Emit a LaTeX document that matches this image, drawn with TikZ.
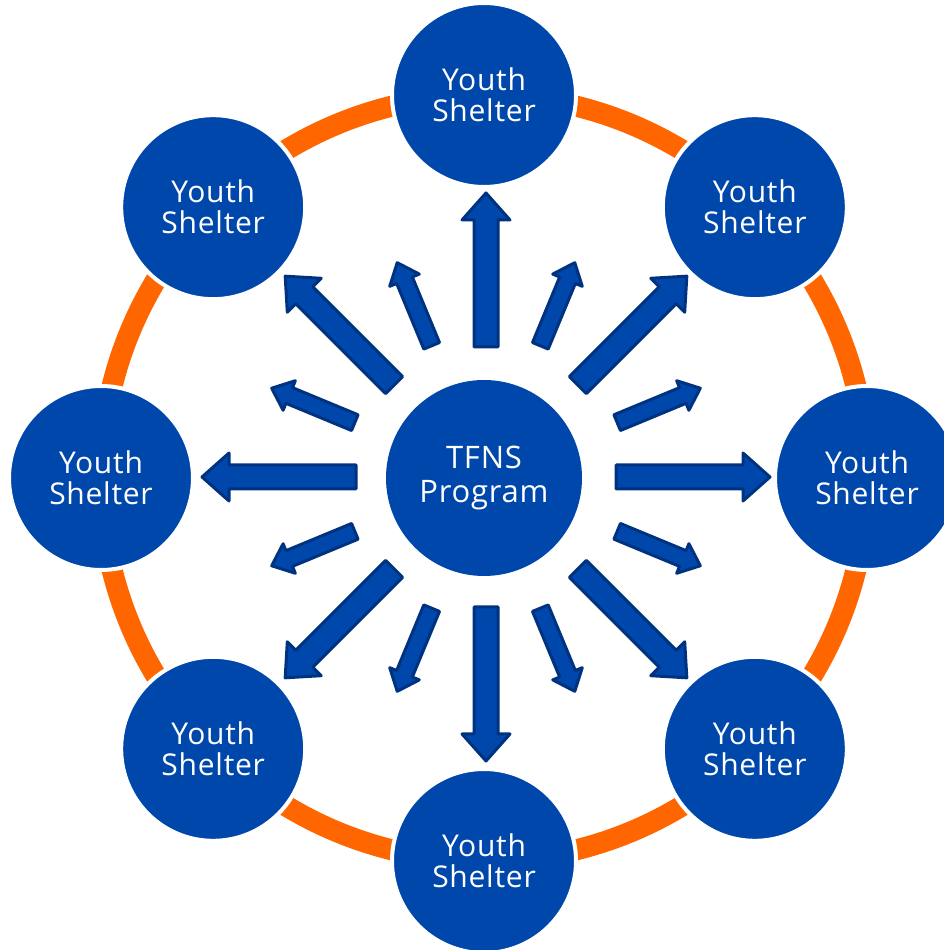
\documentclass[tikz,border=0pt]{standalone}
\usepackage{fontspec}
\setmainfont{Open Sans}[LetterSpace=2.5]
\usetikzlibrary{calc}
\definecolor{cblue}{HTML}{0047AB}
\definecolor{cdark}{HTML}{00337F}
\definecolor{corange}{HTML}{FF6600}
\newcommand\blkarrow[6]{%
  \draw[arrowshape, shift={(486,473)}, rotate=#1]
    (#2,-#4) -- (#3-#6,-#4) -- (#3-#6,-#5) -- (#3,0) -- (#3-#6,#5) -- (#3-#6,#4) -- (#2,#4) -- cycle;}
\begin{document}
\begin{tikzpicture}[x=1pt,y=1pt,
  outer/.style={circle, fill=cblue, draw=white, line width=4pt, minimum size=184pt, inner sep=0pt,
    text=white, align=center, font=\fontsize{30}{31}\selectfont},
  hub/.style={circle, fill=cblue, minimum size=196pt, inner sep=0pt,
    text=white, align=center, font=\fontsize{31}{34}\selectfont},
  arrowshape/.style={fill=cblue, draw=cdark, line width=3pt, line join=round},
  ring/.style={draw=corange, line width=21pt}]
\useasboundingbox (0,0) rectangle (943,950);
\coordinate (C) at (484,472);
\draw[ring] (C) circle (383);
\foreach \a/\n in {90/t,45/tr,0/r,-45/br,-90/b,-135/bl,180/l,135/tl}{
  \node[outer] (\n) at ($(C)+(\a:383)$) {Youth\\Shelter};
}
\node[hub] (hub) at (C) {TFNS\\Program};
% long arrows
\foreach \a in {0,45,...,315}{\blkarrow{\a}{130}{284}{12}{24}{27}}
% short arrows
\foreach \a in {22.5,67.5,...,337.5}{\blkarrow{\a}{142}{232}{8.5}{16}{19}}
\end{tikzpicture}
\end{document}
